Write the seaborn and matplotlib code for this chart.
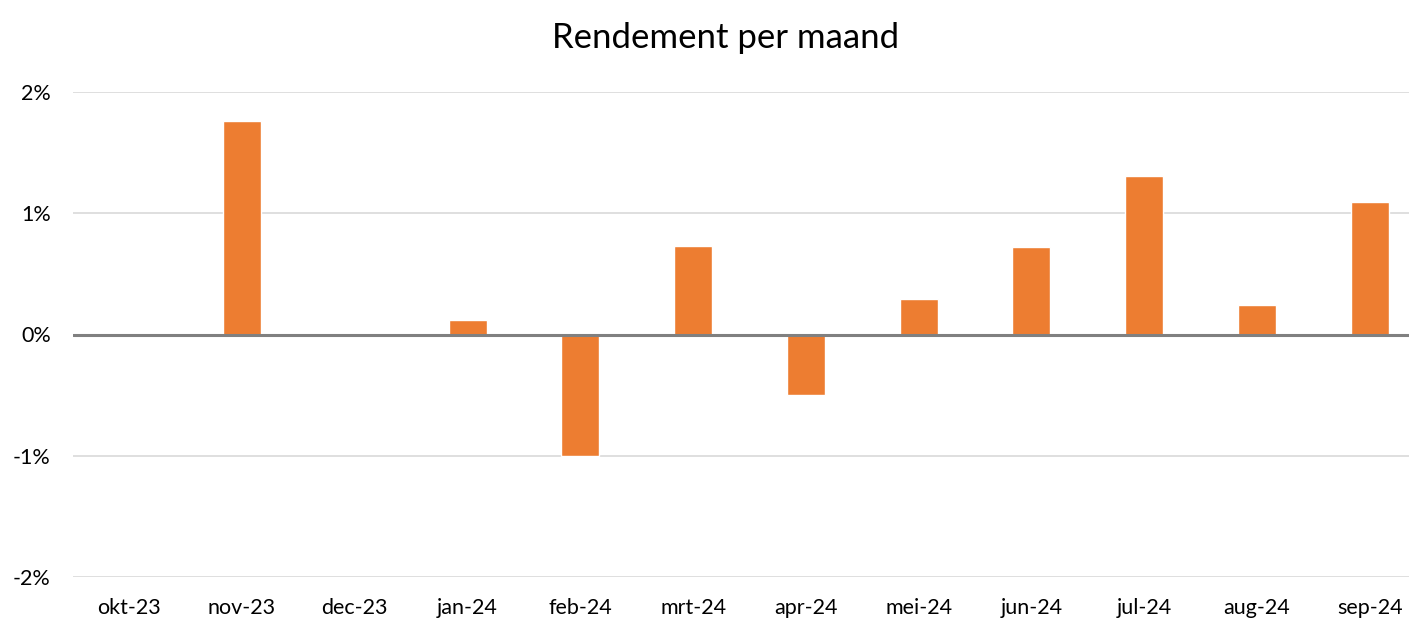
import matplotlib
matplotlib.use("Agg")
import matplotlib.pyplot as plt
import seaborn as sns
import pandas as pd

months = ["okt-23", "nov-23", "dec-23", "jan-24", "feb-24", "mrt-24",
          "apr-24", "mei-24", "jun-24", "jul-24", "aug-24", "sep-24"]
returns = [0.0, 1.76, 0.0, 0.12, -1.0, 0.73, -0.50, 0.29, 0.72, 1.31, 0.24, 1.09]
yticks = [-2, -1, 0, 1, 2]
ytick_labels = ["-2%", "-1%", "0%", "1%", "2%"]
title = "Rendement per maand"

sns.set_theme(style="white")
plt.rcParams['font.family'] = ['Lato', 'DejaVu Sans']

df = pd.DataFrame({"maand": months, "rendement": returns})

W, H = 1409, 619
fig = plt.figure(figsize=(W / 100, H / 100), dpi=100)
left, right, top, bottom = 72.9, 1426, 92, 577
ax = fig.add_axes([left / W, 1 - bottom / H, (right - left) / W, (bottom - top) / H])

sns.barplot(data=df, x="maand", y="rendement", color="#ED7D31", width=0.337,
            saturation=1, ax=ax, zorder=3)

ax.set_ylim(-2, 2)
ax.set_xlim(-0.5, len(months) - 0.5)
ax.set_yticks(yticks)
ax.set_yticklabels(ytick_labels)
ax.grid(axis="y", color="#D9D9D9", linewidth=1.2, zorder=0)
ax.axhline(0, color="#808080", linewidth=2.2, zorder=4)
for s in ax.spines.values():
    s.set_visible(False)
ax.tick_params(axis="both", length=0, labelsize=15.5, colors="#000000")
ax.tick_params(axis="y", pad=16)
ax.tick_params(axis="x", pad=15)
ax.set_xlabel("")
ax.set_ylabel("")

fig.text(726 / W, 1 - 38 / H, title, ha="center", va="center", fontsize=25, color="#000000")

fig.savefig("out.png", dpi=100)
